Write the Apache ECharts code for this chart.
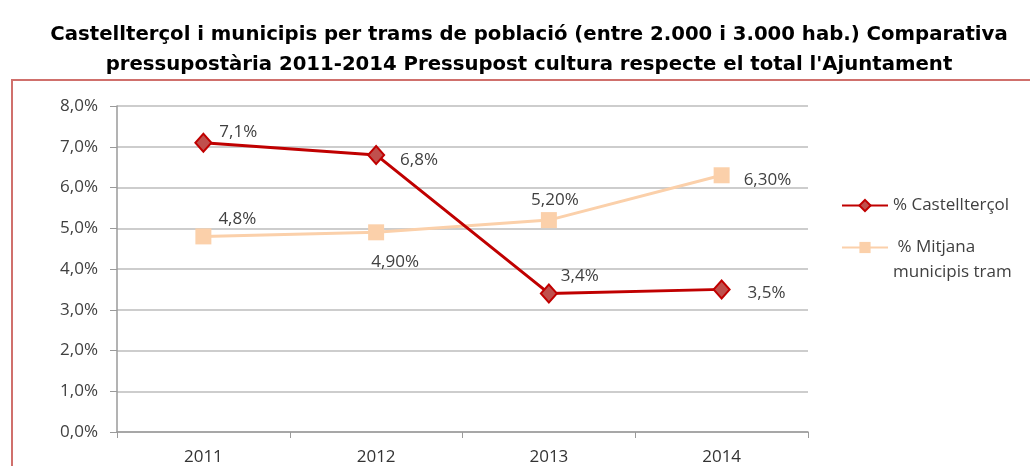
<!DOCTYPE html>
<html>
<head>
<meta charset="utf-8">
<script src="https://cdn.jsdelivr.net/npm/echarts@6/dist/echarts.min.js"></script>
<style>
  html, body { margin: 0; padding: 0; background: #fff; }
  #main { width: 1030px; height: 466px; }
</style>
</head>
<body>
<div id="main"></div>
<script>
var years = ['2011', '2012', '2013', '2014'];
var castellterçol = [7.1, 6.8, 3.4, 3.5];
var mitjana = [4.8, 4.9, 5.2, 6.3];
var castLabels = ['7,1%', '6,8%', '3,4%', '3,5%'];
var mitjLabels = ['4,8%', '4,90%', '5,20%', '6,30%'];

var chart = echarts.init(document.getElementById('main'));

// label placement tweaks, per point
var castPos = [
  { position: 'right', offset: [2, -11] },
  { position: 'right', offset: [10, 5] },
  { position: 'right', offset: [-2, -17] },
  { position: 'right', offset: [12, 4] }
];
var mitjPos = [
  { position: 'right', offset: [2, -17] },
  { position: 'bottom', offset: [19, 8] },
  { position: 'top', offset: [6, 2] },
  { position: 'right', offset: [9, 5] }
];

function points(values, labels, pos) {
  return values.map(function (v, i) {
    return {
      value: v,
      label: {
        position: pos[i].position,
        offset: pos[i].offset,
        formatter: labels[i]
      }
    };
  });
}

var labelStyle = {
  show: true,
  color: '#404040',
  fontSize: 17,
  fontFamily: 'Open Sans'
};

var option = {
  backgroundColor: '#ffffff',
  animation: false,
  title: {
    text: 'Castellterçol i municipis per trams de població (entre 2.000 i 3.000 hab.) Comparativa\npressupostària 2011-2014 Pressupost cultura respecte el total l\'Ajuntament',
    left: 524,
    top: 15,
    textAlign: 'center',
    textStyle: {
      fontFamily: 'DejaVu Sans',
      fontWeight: 'bold',
      fontSize: 19.7,
      lineHeight: 30,
      color: '#000'
    }
  },
  graphic: [{
    type: 'rect',
    shape: { x: 12, y: 80, width: 1040, height: 420 },
    style: { fill: null, stroke: '#d0706c', lineWidth: 2 }
  }],
  legend: [{
    data: ['% Castellterçol'],
    orient: 'vertical',
    left: 836,
    top: 188,
    itemWidth: 46,
    itemHeight: 14,
    itemGap: 0,
    textStyle: { fontFamily: 'Open Sans', fontSize: 17, color: '#404040', lineHeight: 25 }
  }, {
    data: ['% Mitjana municipis tram'],
    orient: 'vertical',
    left: 836,
    top: 205,
    itemWidth: 46,
    itemHeight: 14,
    formatter: function () { return ' \n % Mitjana\nmunicipis tram'; },
    textStyle: { fontFamily: 'Open Sans', fontSize: 17, color: '#404040', lineHeight: 25 }
  }],
  grid: {
    left: 117,
    right: 222,
    top: 106,
    bottom: 30
  },
  xAxis: {
    type: 'category',
    data: years,
    boundaryGap: true,
    axisLine: { lineStyle: { color: '#9a9a9a', width: 1.5 } },
    axisTick: { show: true, length: 6, lineStyle: { color: '#9a9a9a' } },
    axisLabel: { margin: 17, fontSize: 17, color: '#333', fontFamily: 'Open Sans' }
  },
  yAxis: {
    type: 'value',
    min: 0,
    max: 8,
    interval: 1,
    axisLine: { show: true, lineStyle: { color: '#9a9a9a', width: 1.5 } },
    axisTick: { show: true, length: 7, lineStyle: { color: '#9a9a9a' } },
    axisLabel: {
      margin: 19,
      fontSize: 17,
      color: '#404040',
      fontFamily: 'Open Sans',
      formatter: function (v) { return v.toFixed(1).replace('.', ',') + '%'; }
    },
    splitLine: { lineStyle: { color: '#bdbdbd', width: 1.5 } }
  },
  series: [{
    name: '% Castellterçol',
    type: 'line',
    data: points(castellterçol, castLabels, castPos),
    symbol: 'diamond',
    symbolSize: [16, 18],
    lineStyle: { color: '#c00000', width: 3 },
    itemStyle: { color: '#c0504d', borderColor: '#c00000', borderWidth: 2 },
    label: labelStyle,
    z: 3
  }, {
    name: '% Mitjana municipis tram',
    type: 'line',
    data: points(mitjana, mitjLabels, mitjPos),
    symbol: 'rect',
    symbolSize: 16,
    lineStyle: { color: '#fbd0aa', width: 3 },
    itemStyle: { color: '#fbd0aa' },
    label: labelStyle,
    z: 2
  }]
};

chart.setOption(option);
</script>
</body>
</html>
